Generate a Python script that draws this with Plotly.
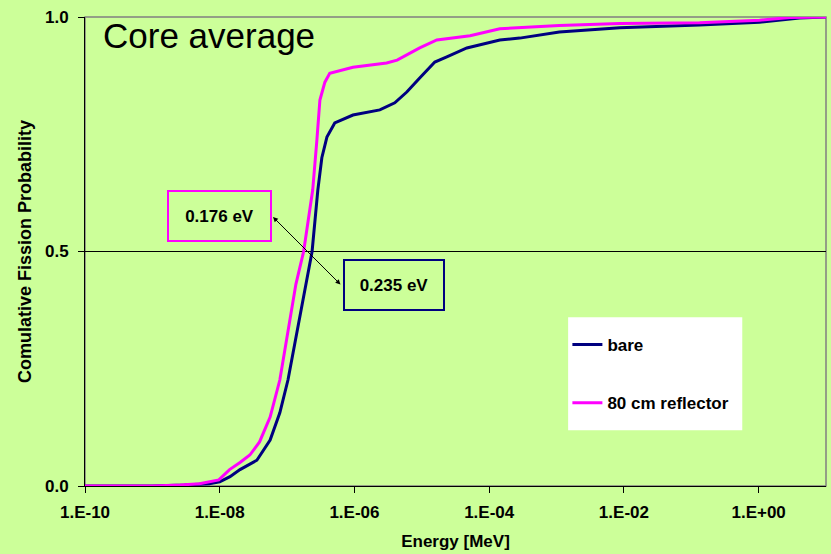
import plotly.graph_objects as go

# Cumulative fission probability vs incident neutron energy (MeV)
energy_bare = [1e-10, 1e-9, 3e-9, 7e-9, 1.0e-8, 1.42e-8, 2.0e-8, 3.56e-8, 5.6e-8, 7.8e-8,
               1.03e-7, 1.5e-7, 2.35e-7, 2.86e-7, 3.28e-7, 3.9e-7, 5.1e-7, 9.5e-7, 2.38e-6,
               3.97e-6, 5.98e-6, 9.3e-6, 1.56e-5, 2.35e-5, 4.66e-5, 1.44e-4, 2.84e-4, 1.1e-3,
               8.7e-3, 0.133, 1.03, 4.06, 10.0]
prob_bare = [0.0, 0.0, 0.002, 0.005, 0.009, 0.02, 0.035, 0.055, 0.098, 0.156,
             0.226, 0.35, 0.5, 0.631, 0.70, 0.744, 0.774, 0.791, 0.802,
             0.817, 0.84, 0.87, 0.904, 0.915, 0.934, 0.951, 0.955, 0.968,
             0.977, 0.983, 0.989, 0.998, 1.0]

energy_refl = [1e-10, 1e-9, 2.6e-9, 5e-9, 9.7e-9, 1.4e-8, 2.0e-8, 2.8e-8, 3.9e-8, 5.6e-8,
               7.8e-8, 1.1e-7, 1.35e-7, 1.76e-7, 2.4e-7, 2.77e-7, 3.07e-7, 3.64e-7, 4.3e-7,
               9.5e-7, 3.0e-6, 4.3e-6, 9.3e-6, 1.67e-5, 5.2e-5, 1.44e-4, 1.1e-3, 8.7e-3,
               0.133, 1.03, 2.9, 10.0]
prob_refl = [0.0, 0.0, 0.002, 0.005, 0.013, 0.035, 0.05, 0.066, 0.094, 0.147,
             0.226, 0.36, 0.43, 0.5, 0.631, 0.738, 0.823, 0.861, 0.88,
             0.893, 0.902, 0.908, 0.934, 0.951, 0.96, 0.975, 0.982, 0.986,
             0.988, 0.993, 0.999, 1.0]

x_tickvals = [1e-10, 1e-8, 1e-6, 1e-4, 1e-2, 1e0]
x_ticktext = ["1.E-10", "1.E-08", "1.E-06", "1.E-04", "1.E-02", "1.E+00"]
y_tickvals = [0.0, 0.5, 1.0]
y_ticktext = ["0.0", "0.5", "1.0"]

BG = "#ccff99"
FONT = "Arial, Liberation Sans, sans-serif"
BOLD = dict(family=FONT, size=17, color="black", weight="bold")

fig = go.Figure()
fig.add_trace(go.Scatter(x=energy_bare, y=prob_bare, mode="lines", name="bare",
                         line=dict(color="#000080", width=3), legendgroup="a"))
fig.add_trace(go.Scatter(x=energy_refl, y=prob_refl, mode="lines", name="80 cm reflector",
                         line=dict(color="#ff00ff", width=3), legendgroup="b"))

# plot-area frame and legend panel
fig.add_shape(type="rect", xref="paper", yref="paper", x0=0, x1=1, y0=0, y1=1,
              line=dict(color="#808080", width=1.5), layer="below")
fig.add_shape(type="rect", xref="paper", yref="paper", x0=0.652, x1=0.887, y0=0.119, y1=0.360,
              line=dict(width=0), fillcolor="white", layer="below")

# boxed value labels at the half-probability crossing
fig.add_annotation(xref="paper", yref="paper", x=0.1815, y=0.5757, xanchor="center", yanchor="middle",
                   text="0.176 eV", showarrow=False, font=BOLD,
                   bordercolor="#ff00ff", borderwidth=2, width=99, height=46, bgcolor=BG)
fig.add_annotation(xref="paper", yref="paper", x=0.417, y=0.4286, xanchor="center", yanchor="middle",
                   text="0.235 eV", showarrow=False, font=BOLD,
                   bordercolor="#000080", borderwidth=2, width=96, height=46, bgcolor=BG)
fig.add_annotation(xref="paper", yref="paper", x=0.2537, y=0.5736, ax=69, ay=69,
                   axref="pixel", ayref="pixel", text="", showarrow=True,
                   arrowside="end+start", arrowhead=2, arrowsize=1, arrowwidth=1,
                   arrowcolor="black")
fig.add_annotation(xref="paper", yref="paper", x=0.021, y=1.0, xanchor="left", yanchor="top",
                   yshift=3, text="Core average", showarrow=False,
                   font=dict(family=FONT, size=35, color="black"))

fig.update_layout(
    width=831, height=554,
    margin=dict(l=85, r=5, t=17, b=68),
    paper_bgcolor=BG, plot_bgcolor=BG,
    font=dict(family=FONT, size=17, color="black"),
    showlegend=True,
    legend=dict(x=0.651, y=0.339, xanchor="left", yanchor="top", bgcolor="rgba(0,0,0,0)",
                font=BOLD, tracegroupgap=33),
    xaxis=dict(type="log", range=[-10, 1], tickvals=x_tickvals, ticktext=x_ticktext,
               showgrid=False, zeroline=False, showline=True, linecolor="black", linewidth=1,
               ticks="outside", ticklen=6, tickcolor="black", ticklabelstandoff=5,
               tickfont=BOLD,
               title=dict(text="Energy [MeV]", font=BOLD, standoff=13)),
    yaxis=dict(range=[0, 1], tickvals=y_tickvals, ticktext=y_ticktext,
               showgrid=True, gridcolor="black", gridwidth=1, zeroline=False,
               showline=True, linecolor="black", linewidth=1,
               ticks="outside", ticklen=6, tickcolor="black", ticklabelstandoff=6,
               tickfont=BOLD,
               title=dict(text="Comulative Fission Probability", font=dict(family=FONT, size=18, weight="bold"),
                          standoff=8)),
)

fig.write_html("out.html")
